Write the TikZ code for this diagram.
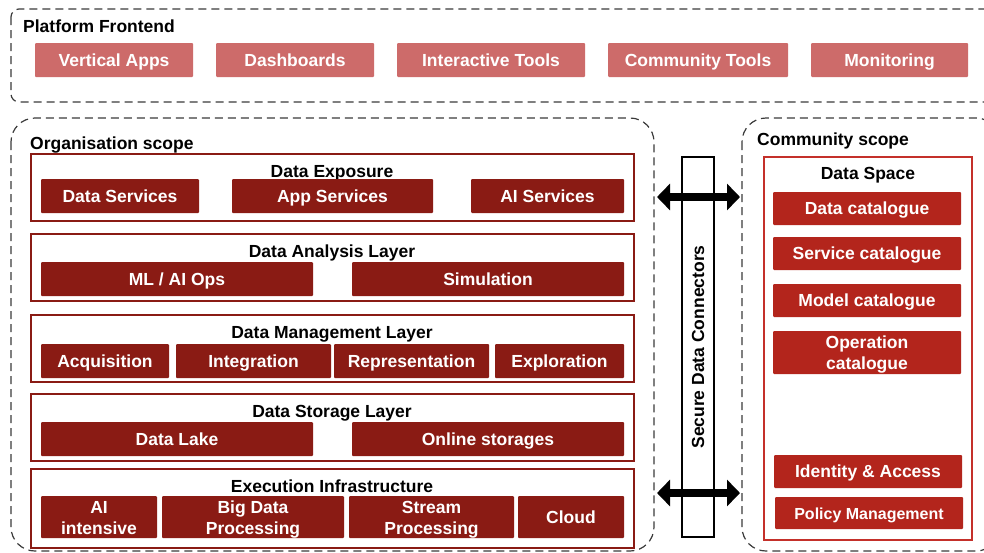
\documentclass[tikz,border=0pt]{standalone}
\usepackage{fontspec}
\setmainfont{Liberation Sans}
\usetikzlibrary{arrows.meta}
\definecolor{frontfill}{HTML}{CD6B6A}
\definecolor{orgred}{HTML}{8A1B14}
\definecolor{dsborder}{HTML}{C4302A}
\definecolor{dsfill}{HTML}{B3251C}
\definecolor{dashgray}{HTML}{3A3A3A}
\newcommand{\mybox}[7]{%
 \pgfmathsetmacro{\bw}{#5-#3}\pgfmathsetmacro{\bh}{#6-#4}%
 \pgfmathsetmacro{\bcx}{(#3+#5)/2}\pgfmathsetmacro{\bcy}{(#4+#6)/2}%
 \node[#1, minimum width=\bw pt, minimum height=\bh pt] (#2) at (\bcx,\bcy) {#7};}
\tikzset{
 txt/.style={font=\fontsize{17.5}{21}\selectfont\bfseries},
 oneline/.style={text height=13pt, text depth=1pt},
 twoline/.style={text height=35.5pt, text depth=1pt},
 scopebox/.style={draw=dashgray, line width=1.2pt, dash pattern=on 8pt off 5pt},
 front/.style={txt, oneline, fill=frontfill, text=white, inner sep=0pt, rounded corners=1pt},
 layer/.style={draw=orgred, line width=2pt, inner sep=0pt},
 orgitemm/.style={txt, twoline, fill=orgred, text=white, inner sep=0pt, align=center, rounded corners=1pt},
 orgitem/.style={orgitemm, oneline},
 dsitemm/.style={txt, twoline, fill=dsfill, text=white, inner sep=0pt, align=center, rounded corners=1pt},
 dsitem/.style={dsitemm, oneline},
 title/.style={txt, oneline, text=black, inner sep=0pt},
 dblarrow/.style={line width=8pt, {Triangle[length=13pt,width=26pt]}-{Triangle[length=13pt,width=26pt]}},
}
\begin{document}
\begin{tikzpicture}[x=1pt,y=-1pt]
\useasboundingbox (0,0) rectangle (984,552);
% Platform frontend
\draw[scopebox, rounded corners=8pt] (11,9) rectangle (1000,102);
\node[title, anchor=west] (pftitle) at (23,26) {Platform Frontend};
\mybox{front}{va}{35}{43}{193}{77}{Vertical Apps}
\mybox{front}{db}{216}{43}{374}{77}{Dashboards}
\mybox{front}{it}{397}{43}{585}{77}{Interactive Tools}
\mybox{front}{ct}{608}{43}{788}{77}{Community Tools}
\mybox{front}{mo}{811}{43}{968}{77}{Monitoring}
% Organisation scope
\draw[scopebox, rounded corners=24pt] (11,118) rectangle (654,551);
\node[title, anchor=west] (orgtitle) at (30,143) {Organisation scope};
% Layer 1
\mybox{layer}{l1}{31}{154}{634}{221}{}
\node[title] (l1t) at (332,171) {Data Exposure};
\mybox{orgitem}{ds}{41}{179}{199}{213}{Data Services}
\mybox{orgitem}{as}{232}{179}{433}{213}{App Services}
\mybox{orgitem}{ais}{471}{179}{624}{213}{AI Services}
% Layer 2
\mybox{layer}{l2}{31}{234}{634}{301}{}
\node[title] (l2t) at (332,251) {Data Analysis Layer};
\mybox{orgitem}{ml}{41}{262}{313}{296}{ML / AI Ops}
\mybox{orgitem}{sim}{352}{262}{624}{296}{Simulation}
% Layer 3
\mybox{layer}{l3}{31}{315}{634}{382}{}
\node[title] (l3t) at (332,332) {Data Management Layer};
\mybox{orgitem}{acq}{41}{344}{169}{378}{Acquisition}
\mybox{orgitem}{int}{176}{344}{331}{378}{Integration}
\mybox{orgitem}{rep}{334}{344}{489}{378}{Representation}
\mybox{orgitem}{exp}{495}{344}{624}{378}{Exploration}
% Layer 4
\mybox{layer}{l4}{31}{394}{634}{461}{}
\node[title] (l4t) at (332,411) {Data Storage Layer};
\mybox{orgitem}{dl}{41}{422}{313}{456}{Data Lake}
\mybox{orgitem}{os}{352}{422}{624}{456}{Online storages}
% Layer 5
\mybox{layer}{l5}{31}{469}{634}{548}{}
\node[title] (l5t) at (332,486) {Execution Infrastructure};
\mybox{orgitemm}{aii}{41}{496}{157}{538}{AI\\intensive}
\mybox{orgitemm}{bdp}{162}{496}{344}{538}{Big Data\\Processing}
\mybox{orgitemm}{sp}{349}{496}{514}{538}{Stream\\Processing}
\mybox{orgitem}{cl}{518}{496}{624}{538}{Cloud}
% Connectors
\mybox{draw=black, line width=2pt, inner sep=0pt}{sdc}{682}{157}{714}{537}{}
\node[title, rotate=90] (sdct) at (698,347) {Secure Data Connectors};
% Community scope
\draw[scopebox, rounded corners=24pt] (742,118) rectangle (1000,551);
\node[title, anchor=west] (comtitle) at (757,139) {Community scope};
\mybox{draw=dsborder, line width=2pt, inner sep=0pt}{dspace}{764}{157}{972}{540}{}
\node[title] (dst) at (868,173) {Data Space};
\mybox{dsitem}{dc}{773}{192}{961}{225}{Data catalogue}
\mybox{dsitem}{sc}{773}{237}{961}{270}{Service catalogue}
\mybox{dsitem}{mc}{773}{284}{961}{317}{Model catalogue}
\mybox{dsitemm}{oc}{773}{331}{961}{374}{Operation\\catalogue}
\mybox{dsitem}{ia}{774}{455}{962}{488}{Identity \& Access}
\mybox{dsitem, font=\fontsize{16}{20}\selectfont\bfseries}{pm}{775}{497}{963}{529}{Policy Management}
% Arrows
\coordinate (a1l) at (657,197);
\coordinate (a1r) at (740,197);
\coordinate (a2l) at (657,493);
\coordinate (a2r) at (740,493);
\draw[dblarrow] (a1l) -- (a1r);
\draw[dblarrow] (a2l) -- (a2r);
\end{tikzpicture}
\end{document}
